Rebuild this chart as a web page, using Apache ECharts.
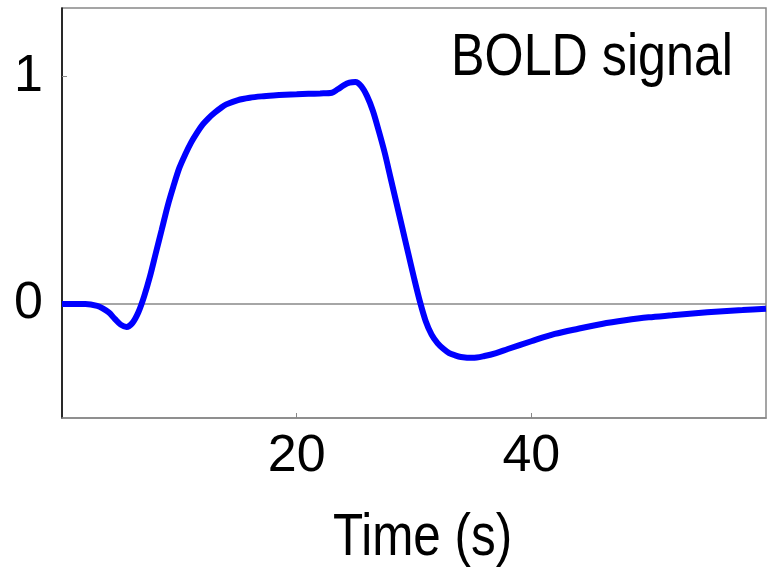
<!DOCTYPE html>
<html>
<head>
<meta charset="utf-8">
<script src="https://cdn.jsdelivr.net/npm/echarts@6/dist/echarts.min.js"></script>
<style>html,body{margin:0;padding:0;background:#fff}#c{width:767px;height:572px}</style>
</head>
<body>
<div id="c"></div>
<script>
const timeS = [0, 1, 2, 3, 3.5, 4, 4.5, 5, 5.5, 6, 6.5, 7, 7.5, 8, 8.5, 9, 9.5, 10, 10.5, 11, 11.5, 12, 12.5, 13, 13.5, 14, 15, 16, 17, 18, 19, 20, 21, 22, 23, 23.5, 24, 24.5, 25, 25.5, 26, 26.5, 27, 27.5, 28, 28.5, 29, 29.5, 30, 30.5, 31, 31.5, 32, 32.5, 33, 33.5, 34, 35, 36, 37, 38, 40, 42, 44, 46, 48, 50, 52, 54, 56, 58, 60];
const boldValues = [0, 0, 0, -0.008, -0.02, -0.037, -0.065, -0.09, -0.1, -0.083, -0.037, 0.034, 0.122, 0.225, 0.327, 0.43, 0.518, 0.598, 0.657, 0.709, 0.752, 0.789, 0.817, 0.84, 0.86, 0.877, 0.896, 0.906, 0.912, 0.916, 0.919, 0.921, 0.923, 0.925, 0.928, 0.943, 0.96, 0.972, 0.975, 0.957, 0.913, 0.848, 0.76, 0.665, 0.555, 0.445, 0.335, 0.225, 0.115, 0.012, -0.075, -0.134, -0.171, -0.196, -0.215, -0.225, -0.232, -0.236, -0.228, -0.215, -0.197, -0.163, -0.131, -0.108, -0.087, -0.071, -0.058, -0.049, -0.04, -0.032, -0.026, -0.02];
const xTickValues = [20, 40];
const yTickValues = [0, 1];
const xRange = [0, 60];
const yRange = [-0.5, 1.3];
const titleText = 'BOLD signal';
const xAxisName = 'Time (s)';

const FONT = '"Liberation Sans", Arial, Helvetica, sans-serif';
const chart = echarts.init(document.getElementById('c'));
chart.setOption({
  animation: false,
  backgroundColor: '#ffffff',
  grid: {
    left: 62, right: 1, top: 8, bottom: 154,
    show: true, borderColor: '#888', borderWidth: 1.5,
    containLabel: false, outerBoundsMode: 'none'
  },
  xAxis: {
    type: 'value', min: xRange[0], max: xRange[1],
    axisLine: { show: true, onZero: false, lineStyle: { color: '#888', width: 1.5 } },
    axisTick: { show: true, inside: true, length: 5, customValues: xTickValues, lineStyle: { color: '#888', width: 1 } },
    axisLabel: { customValues: xTickValues, margin: 13, fontFamily: FONT, fontSize: 52, color: '#000' },
    splitLine: { show: false }
  },
  yAxis: {
    type: 'value', min: yRange[0], max: yRange[1],
    axisLine: { show: true, onZero: false, lineStyle: { color: '#000', width: 1.5 } },
    axisTick: { show: true, inside: true, length: 5, customValues: yTickValues, lineStyle: { color: '#888', width: 1 } },
    axisLabel: { customValues: yTickValues, margin: 19, fontFamily: FONT, fontSize: 52, color: '#000', padding: [0, 0, 10, 0] },
    splitLine: { show: false }
  },
  graphic: [
    {
      type: 'text', x: 733, y: 58, scaleX: 0.837, z: 10,
      style: { text: titleText, font: '60px ' + FONT, fill: '#000', align: 'right', verticalAlign: 'middle', textAlign: 'right', textVerticalAlign: 'middle' }
    },
    {
      type: 'text', x: 422.5, y: 538.5, scaleX: 0.823, z: 10,
      style: { text: xAxisName, font: '60px ' + FONT, fill: '#000', align: 'center', verticalAlign: 'middle', textAlign: 'center', textVerticalAlign: 'middle' }
    }
  ],
  series: [{
    type: 'line',
    data: timeS.map((t, i) => [t, boldValues[i]]),
    smooth: 0.3,
    showSymbol: false,
    lineStyle: { color: '#0000ff', width: 6 },
    z: 3,
    markLine: {
      silent: true, symbol: 'none', label: { show: false },
      lineStyle: { color: '#888', width: 1.5, type: 'solid' },
      data: [{ yAxis: 0 }],
      z: 1
    }
  }]
});
</script>
</body>
</html>
